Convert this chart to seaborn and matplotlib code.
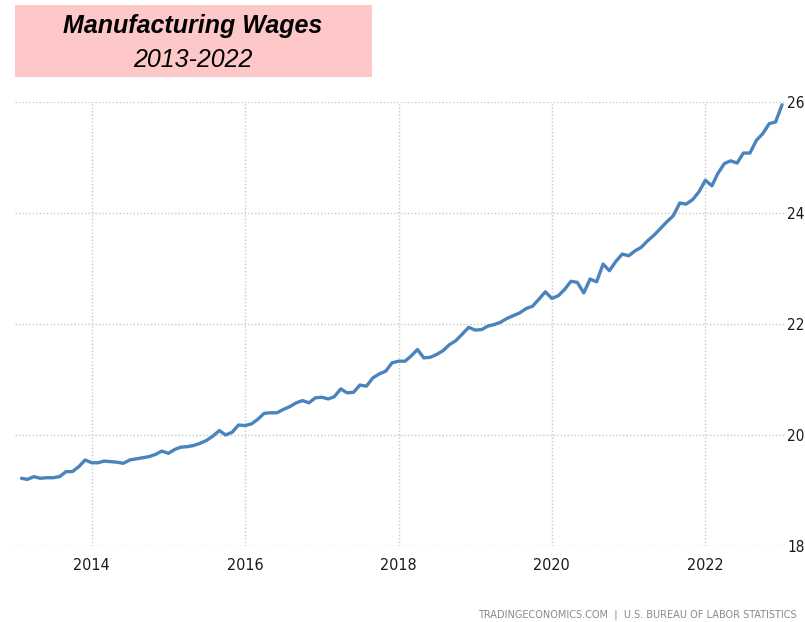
import pandas as pd
import seaborn as sns
import matplotlib.pyplot as plt
from matplotlib.patches import Rectangle

# Average hourly earnings in manufacturing (USD), monthly Feb 2013 - Jan 2023
start_month = "2013-02-01"
wages = [
    19.22, 19.20, 19.25, 19.22, 19.23, 19.23, 19.25, 19.34, 19.34, 19.43, 19.55,
    19.50, 19.50, 19.53, 19.52, 19.51, 19.49, 19.55, 19.57, 19.59, 19.61, 19.65, 19.71,
    19.67, 19.74, 19.78, 19.79, 19.81, 19.85, 19.90, 19.98, 20.08, 20.00, 20.05, 20.18,
    20.17, 20.20, 20.28, 20.39, 20.40, 20.40, 20.46, 20.51, 20.58, 20.62, 20.58, 20.67,
    20.68, 20.65, 20.69, 20.83, 20.76, 20.77, 20.90, 20.88, 21.03, 21.10, 21.15, 21.30,
    21.33, 21.33, 21.42, 21.54, 21.39, 21.40, 21.45, 21.52, 21.63, 21.70, 21.82, 21.94,
    21.89, 21.90, 21.96, 21.99, 22.03, 22.10, 22.15, 22.20, 22.28, 22.32, 22.45, 22.58,
    22.46, 22.51, 22.62, 22.77, 22.75, 22.56, 22.81, 22.76, 23.08, 22.96, 23.13, 23.26,
    23.23, 23.32, 23.38, 23.50, 23.60, 23.72, 23.84, 23.95, 24.18, 24.16, 24.24, 24.38,
    24.59, 24.49, 24.71, 24.89, 24.94, 24.90, 25.08, 25.08, 25.31, 25.43, 25.61, 25.64,
    25.95,
]
tick_years = [2014, 2016, 2018, 2020, 2022]
y_ticks = [18, 20, 22, 24, 26]

df = pd.DataFrame({
    "date": pd.date_range(start_month, periods=len(wages), freq="MS"),
    "wage": wages,
})

sns.set_style("white")
narrow = dict(family="DejaVu Sans", fontstretch="condensed")

fig = plt.figure(figsize=(8.05, 6.22), dpi=100)
ax = fig.add_axes([15 / 805, 1 - 546 / 622, 770 / 805, 444 / 622])

sns.lineplot(data=df, x="date", y="wage", ax=ax, color="#4a84bd", linewidth=2.4)

ax.set_xlim(pd.Timestamp("2013-01-01"), pd.Timestamp("2023-01-15"))
ax.set_ylim(18, 26)
ax.set_xticks([pd.Timestamp(f"{y}-01-01") for y in tick_years])
ax.set_xticklabels([str(y) for y in tick_years], fontsize=11.5, color="#1a1a1a", **narrow)
ax.set_yticks(y_ticks)
ax.set_yticklabels([str(v) for v in y_ticks], fontsize=11, color="#1a1a1a", **narrow)
ax.yaxis.tick_right()
ax.tick_params(axis="x", length=0, pad=9)
ax.tick_params(axis="y", length=0, pad=1.5)
ax.grid(True, linestyle=(0, (1, 1.5)), color="#c8c8c8", linewidth=1)
ax.set_xlabel("")
ax.set_ylabel("")
for s in ax.spines.values():
    s.set_visible(False)

# title box
fig.patches.append(Rectangle((15 / 805, 1 - 77 / 622), 357 / 805, 72 / 622,
                             transform=fig.transFigure, facecolor="#ffc8c8",
                             edgecolor="none", zorder=0))
fig.text(193 / 805, 1 - 26 / 622, "Manufacturing Wages", ha="center", va="center",
         fontsize=18, fontweight="bold", fontstyle="italic", family="Liberation Sans",
         color="black")
fig.text(193 / 805, 1 - 60 / 622, "2013-2022", ha="center", va="center",
         fontsize=18, fontstyle="italic", family="Liberation Sans", color="black")

fig.text(797 / 805, 1 - 615 / 622, "TRADINGECONOMICS.COM  |  U.S. BUREAU OF LABOR STATISTICS",
         ha="right", va="center", fontsize=7.8, color="#8a8a8a", **narrow)

fig.savefig("out.png", dpi=100)
